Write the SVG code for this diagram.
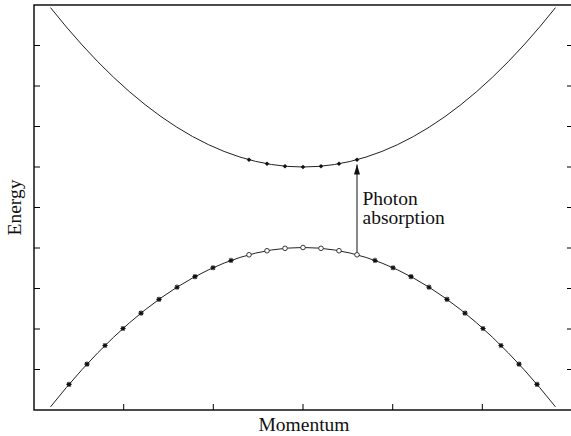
<svg xmlns="http://www.w3.org/2000/svg" xmlns:xlink="http://www.w3.org/1999/xlink" width="571" height="436" viewBox="0 0 571 436">
<style>
.frame{fill:none;stroke:#000;stroke-width:1.4}
.tick{stroke:#000;stroke-width:1}
.curve{fill:none;stroke:#222;stroke-width:1}
.lbl{font-family:"Liberation Serif","Times New Roman",serif;font-size:19.5px;fill:#111}
.star{stroke:#111;stroke-width:1.1;fill:none}
.circ{fill:#fff;stroke:#222;stroke-width:0.9}
.dia{fill:#111;stroke:none}
.arrow{stroke:#111;stroke-width:1;fill:none}
</style>
<defs>
<g id="st" class="star"><path d="M-2.6,0H2.6M0,-2.6V2.6M-1.9,-1.9L1.9,1.9M-1.9,1.9L1.9,-1.9"/></g>
<circle id="ci" class="circ" r="2.3"/>
<path id="di" class="dia" d="M0,-2.3L2.3,0L0,2.3L-2.3,0Z"/>
<marker id="ah" markerWidth="10" markerHeight="6" refX="10" refY="3" orient="auto" markerUnits="userSpaceOnUse">
<path d="M0,0L10,3L0,6Z" fill="#111"/>
</marker>
</defs>
<g id="axes">
<rect class="frame" x="34" y="5" width="538" height="405"/>
<g class="tick">
<path d="M34,45.5h6M34,86h6M34,126.5h6M34,167h6M34,207.5h6M34,248h6M34,288.5h6M34,329h6M34,369.5h6"/>
<path d="M572,45.5h-5M572,86h-5M572,126.5h-5M572,167h-5M572,207.5h-5M572,248h-5M572,288.5h-5M572,329h-5M572,369.5h-5"/>
<path d="M123.7,410v-6M213.3,410v-6M303,410v-6M392.7,410v-6M482.3,410v-6"/>
</g>
</g>
<g id="conduction-band">
<path class="curve" d="M50.5,7.6Q303,326.4 555.5,7.6"/>
<use xlink:href="#di" x="249" y="159.71"/>
<use xlink:href="#di" x="267" y="163.76"/>
<use xlink:href="#di" x="285" y="166.19"/>
<use xlink:href="#di" x="303" y="167"/>
<use xlink:href="#di" x="321" y="166.19"/>
<use xlink:href="#di" x="339" y="163.76"/>
<use xlink:href="#di" x="357" y="159.71"/>
</g>
<g id="valence-band">
<path class="curve" d="M50.5,406.9Q303,88.1 555.5,406.9"/>
<use xlink:href="#st" x="69" y="384.39"/>
<use xlink:href="#st" x="87" y="364.14"/>
<use xlink:href="#st" x="105" y="345.51"/>
<use xlink:href="#st" x="123" y="328.5"/>
<use xlink:href="#st" x="141" y="313.11"/>
<use xlink:href="#st" x="159" y="299.34"/>
<use xlink:href="#st" x="177" y="287.19"/>
<use xlink:href="#st" x="195" y="276.66"/>
<use xlink:href="#st" x="213" y="267.75"/>
<use xlink:href="#st" x="231" y="260.46"/>
<use xlink:href="#ci" x="249" y="254.79"/>
<use xlink:href="#ci" x="267" y="250.74"/>
<use xlink:href="#ci" x="285" y="248.31"/>
<use xlink:href="#ci" x="303" y="247.5"/>
<use xlink:href="#ci" x="321" y="248.31"/>
<use xlink:href="#ci" x="339" y="250.74"/>
<use xlink:href="#st" x="375" y="260.46"/>
<use xlink:href="#st" x="393" y="267.75"/>
<use xlink:href="#st" x="411" y="276.66"/>
<use xlink:href="#st" x="429" y="287.19"/>
<use xlink:href="#st" x="447" y="299.34"/>
<use xlink:href="#st" x="465" y="313.11"/>
<use xlink:href="#st" x="483" y="328.5"/>
<use xlink:href="#st" x="501" y="345.51"/>
<use xlink:href="#st" x="519" y="364.14"/>
<use xlink:href="#st" x="537" y="384.39"/>
</g>
<g id="connectors">
<path class="arrow" d="M357,252.5V164.5" marker-end="url(#ah)"/>
</g>
<use xlink:href="#ci" x="357" y="254.79"/>
<g id="labels">
<text class="lbl" x="362.5" y="205">Photon</text>
<text class="lbl" x="362.5" y="224">absorption</text>
<text class="lbl" x="304" y="431" text-anchor="middle">Momentum</text>
<text class="lbl" transform="translate(21,207.5) rotate(-90)" text-anchor="middle">Energy</text>
</g>
</svg>
